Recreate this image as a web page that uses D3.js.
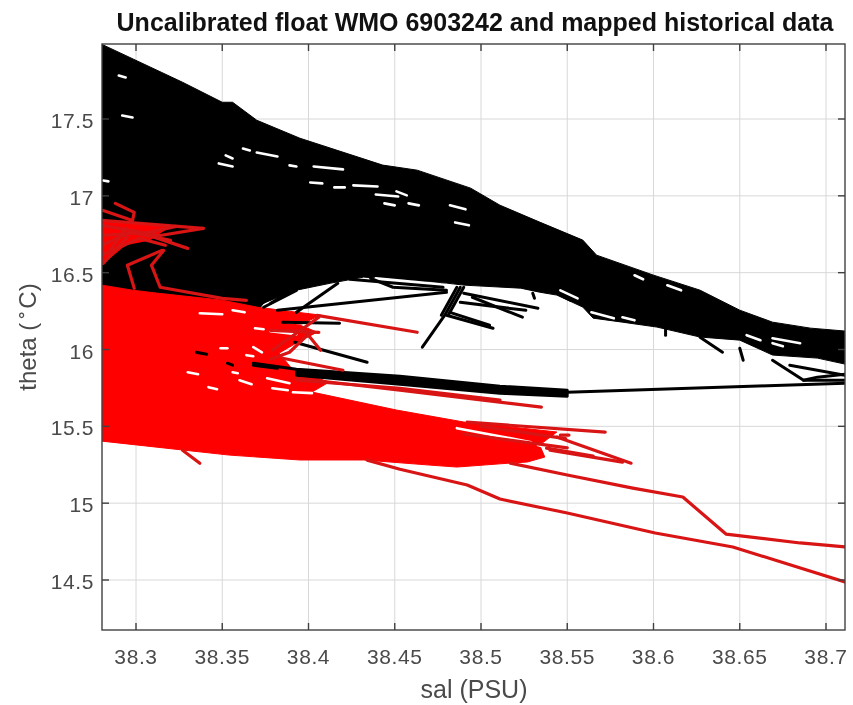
<!DOCTYPE html>
<html><head><meta charset="utf-8">
<script src="https://cdn.jsdelivr.net/npm/d3@7"></script>
<style>html,body{margin:0;padding:0;background:#fff}svg{display:block;filter:blur(0.5px)}</style>
</head><body><svg id="c" width="853" height="705"></svg>
<script>
const salTicks = [38.3,38.35,38.4,38.45,38.5,38.55,38.6,38.65,38.7];
const thetaTicks = [14.5,15,15.5,16,16.5,17,17.5];
const titleText = "Uncalibrated float WMO 6903242 and mapped historical data";
const xLabel = "sal (PSU)";
const yLabelParts = ["theta (", "\u02DA", "C)"];

const blackEnvelope = [[38.280,17.987],[38.327,17.739],[38.350,17.609],[38.356,17.609],[38.370,17.492],[38.395,17.375],[38.443,17.200],[38.463,17.167],[38.494,17.050],[38.511,16.939],[38.534,16.829],[38.559,16.712],[38.567,16.614],[38.600,16.484],[38.627,16.386],[38.650,16.256],[38.669,16.178],[38.691,16.139],[38.711,16.120],
[38.711,15.905],[38.695,15.944],[38.669,15.964],[38.650,16.061],[38.627,16.081],[38.602,16.146],[38.582,16.178],[38.565,16.204],[38.559,16.276],[38.544,16.354],[38.534,16.373],[38.523,16.399],[38.490,16.419],[38.480,16.432],[38.432,16.471],[38.413,16.432],[38.393,16.386],[38.374,16.302],[38.370,16.243],[38.280,16.321]];

const redEnvelope = [[38.280,16.419],[38.298,16.386],[38.312,16.367],[38.350,16.321],[38.370,16.276],[38.393,16.243],[38.407,16.224],[38.395,16.159],[38.405,16.113],[38.393,16.042],[38.383,15.977],[38.391,15.866],[38.412,15.788],[38.402,15.723],[38.451,15.606],[38.490,15.528],[38.523,15.489],[38.544,15.463],[38.534,15.378],[38.537,15.300],[38.527,15.268],[38.517,15.261],[38.486,15.235],[38.470,15.248],[38.432,15.281],[38.395,15.281],[38.354,15.313],[38.327,15.346],[38.280,15.404]];

const redFanPatch = [[38.280,16.840],[38.320,16.801],[38.308,16.710],[38.294,16.678],[38.280,16.548]];

const blackGaps = [
[[38.370,17.282],[38.382,17.256]],[[38.348,17.211],[38.356,17.191]],[[38.403,17.191],[38.420,17.172]],
[[38.401,17.087],[38.408,17.081]],[[38.426,17.068],[38.440,17.061]],[[38.439,17.009],[38.452,16.996]],
[[38.458,16.951],[38.464,16.938]],[[38.482,16.938],[38.491,16.912]],[[38.485,16.827],[38.493,16.808]],
[[38.290,17.783],[38.294,17.770]],[[38.362,17.308],[38.366,17.295]],[[38.281,17.100],[38.284,17.094]],
[[38.352,17.263],[38.356,17.243]],[[38.415,17.055],[38.421,17.055]],[[38.389,17.198],[38.393,17.191]],
[[38.444,16.951],[38.450,16.938]],[[38.292,17.523],[38.298,17.510]],[[38.451,17.029],[38.457,17.003]],
[[38.546,16.385],[38.556,16.333]],[[38.589,16.483],[38.594,16.457]],[[38.608,16.418],[38.616,16.385]],
[[38.564,16.242],[38.577,16.203]],[[38.582,16.210],[38.589,16.190]],[[38.654,16.093],[38.662,16.060]],
[[38.669,16.073],[38.685,16.041]],[[38.669,16.041],[38.675,16.021]],[[38.439,16.463],[38.476,16.424]]];

const redGaps = [
[[38.330,15.852],[38.336,15.839]],[[38.360,15.800],[38.367,15.774]],[[38.376,15.813],[38.389,15.781]],
[[38.337,16.236],[38.350,16.229]],[[38.356,16.255],[38.363,16.242]],[[38.388,16.177],[38.405,16.164]],
[[38.369,16.138],[38.374,16.132]],[[38.378,16.119],[38.393,16.099]],[[38.368,16.015],[38.373,15.982]],
[[38.364,15.963],[38.368,15.956]],[[38.349,16.008],[38.353,16.008]],[[38.356,15.852],[38.359,15.846]],
[[38.342,15.755],[38.347,15.742]],[[38.379,15.748],[38.388,15.735]],[[38.391,15.722],[38.402,15.716]],
[[38.486,15.488],[38.529,15.397]],[[38.533,15.378],[38.548,15.332]]];

const blackTraces = [
[[38.488,16.405],[38.479,16.223],[38.466,16.015]],[[38.490,16.405],[38.481,16.223]],[[38.486,16.405],[38.477,16.223]],
[[38.480,16.223],[38.507,16.138]],[[38.482,16.242],[38.505,16.158]],
[[38.490,16.366],[38.533,16.268]],[[38.488,16.307],[38.526,16.255]],[[38.495,16.340],[38.524,16.210]],
[[38.382,16.255],[38.480,16.372]],[[38.393,16.242],[38.417,16.431]],
[[38.374,16.275],[38.393,16.385]],[[38.371,16.288],[38.381,16.353]],[[38.378,16.301],[38.391,16.385]],
[[38.424,16.457],[38.478,16.405]],[[38.436,16.463],[38.449,16.405],[38.480,16.385]],
[[38.385,16.177],[38.418,16.171]],[[38.392,16.047],[38.434,15.917]],
[[38.368,15.911],[38.393,15.872],[38.453,15.826],[38.511,15.761],[38.550,15.735]],
[[38.393,15.862],[38.453,15.813],[38.511,15.748],[38.550,15.725]],
[[38.393,15.852],[38.453,15.800],[38.511,15.735],[38.550,15.716]],
[[38.393,15.843],[38.453,15.787],[38.511,15.725],[38.550,15.706]],
[[38.393,15.833],[38.453,15.774],[38.511,15.716],[38.550,15.696]],
[[38.368,15.898],[38.382,15.878]],[[38.335,15.982],[38.341,15.969]],[[38.353,15.911],[38.356,15.898]],
[[38.550,15.722],[38.711,15.781]],[[38.687,15.800],[38.711,15.800]],
[[38.669,15.930],[38.687,15.800],[38.695,15.820],[38.711,15.839]],[[38.679,15.898],[38.711,15.833]],
[[38.627,16.080],[38.640,15.982]],[[38.650,16.008],[38.652,15.930]],[[38.607,16.138],[38.607,16.093]],
[[38.544,16.366],[38.552,16.320]],[[38.530,16.366],[38.531,16.333]]];

const redTraces = [
[[38.280,16.840],[38.339,16.788]],[[38.281,16.905],[38.298,16.840]],
[[38.288,16.951],[38.299,16.892],[38.298,16.840]],[[38.299,16.775],[38.330,16.658]],
[[38.281,16.561],[38.295,16.730]],[[38.315,16.645],[38.295,16.548],[38.299,16.398]],
[[38.316,16.645],[38.309,16.548],[38.314,16.405],[38.350,16.333],[38.364,16.320]],
[[38.280,16.808],[38.314,16.742],[38.339,16.788]],[[38.280,16.743],[38.308,16.762],[38.323,16.801]],
[[38.280,16.678],[38.297,16.762],[38.320,16.710]],[[38.280,16.613],[38.302,16.723],[38.317,16.678]],
[[38.285,16.645],[38.294,16.788]],
[[38.405,16.222],[38.463,16.112]],[[38.385,15.943],[38.420,15.865]],[[38.399,16.106],[38.407,15.995]],
[[38.379,15.995],[38.406,16.210]],[[38.393,15.813],[38.453,15.735],[38.535,15.625]],
[[38.393,15.800],[38.453,15.748],[38.511,15.670]],[[38.378,16.125],[38.406,16.112]],
[[38.401,16.112],[38.389,15.982],[38.378,15.937]],
[[38.492,15.527],[38.572,15.462]],[[38.544,15.430],[38.587,15.260]],[[38.540,15.345],[38.582,15.267]],
[[38.538,15.358],[38.565,15.306]],[[38.546,15.443],[38.551,15.443]],[[38.327,15.345],[38.337,15.260]],
[[38.500,15.500],[38.549,15.420]],[[38.490,15.450],[38.550,15.360]],
[[38.434,15.280],[38.453,15.221],[38.492,15.118],[38.511,15.027],[38.550,14.936],[38.601,14.806],[38.646,14.715],[38.711,14.487]],
[[38.517,15.261],[38.550,15.183],[38.588,15.098],[38.617,15.040],[38.642,14.799],[38.685,14.741],[38.711,14.715]]];

const W = 853, H = 705;
const m = {l:102, r:845, t:44, b:630};
const x = d3.scaleLinear().domain([38.3,38.7]).range([136,826]);
const y = d3.scaleLinear().domain([14.5,17.5]).range([580,119]);
const svg = d3.select("#c");
const line = d3.line().x(d=>x(d[0])).y(d=>y(d[1]));
const axisCol = "#404040", textCol = "#4a4a4a";

svg.append("defs").append("clipPath").attr("id","plot").append("rect")
  .attr("x",m.l).attr("y",m.t).attr("width",m.r-m.l).attr("height",m.b-m.t);

const grid = svg.append("g").attr("stroke","#d8d8d8").attr("stroke-width",1);
grid.selectAll("line.v").data(salTicks).join("line").attr("class","v")
  .attr("x1",d=>x(d)).attr("x2",d=>x(d)).attr("y1",m.t).attr("y2",m.b);
grid.selectAll("line.h").data(thetaTicks).join("line").attr("class","h")
  .attr("y1",d=>y(d)).attr("y2",d=>y(d)).attr("x1",m.l).attr("x2",m.r);

const plot = svg.append("g").attr("clip-path","url(#plot)").attr("fill","none")
  .attr("stroke-linejoin","round").attr("stroke-linecap","round");

plot.append("path").datum(blackEnvelope).attr("d",d=>line(d)+"Z").attr("fill","#000").attr("stroke","#000").attr("stroke-width",1);
plot.selectAll("path.bg").data(blackGaps).join("path").attr("class","bg").attr("d",line).attr("stroke","#fff").attr("stroke-width",2.6);
plot.append("path").datum(redEnvelope).attr("d",d=>line(d)+"Z").attr("fill","#f00").attr("stroke","#f00").attr("stroke-width",1);
plot.append("path").datum(redFanPatch).attr("d",d=>line(d)+"Z").attr("fill","#f00");
plot.selectAll("path.rg").data(redGaps).join("path").attr("class","rg").attr("d",line).attr("stroke","#fff").attr("stroke-width",2.6);
plot.selectAll("path.bt").data(blackTraces).join("path").attr("class","bt").attr("d",line).attr("stroke","#000").attr("stroke-width",3);
plot.selectAll("path.rt").data(redTraces).join("path").attr("class","rt").attr("d",line).attr("stroke","#d81414").attr("stroke-width",3.2);

const box = svg.append("g").attr("stroke",axisCol).attr("stroke-width",1.4);
box.append("rect").attr("x",m.l).attr("y",m.t).attr("width",m.r-m.l).attr("height",m.b-m.t).attr("fill","none");
const tick = 7;
box.selectAll("line.xb").data(salTicks).join("line").attr("class","xb").attr("x1",d=>x(d)).attr("x2",d=>x(d)).attr("y1",m.b).attr("y2",m.b-tick);
box.selectAll("line.xt").data(salTicks).join("line").attr("class","xt").attr("x1",d=>x(d)).attr("x2",d=>x(d)).attr("y1",m.t).attr("y2",m.t+tick);
box.selectAll("line.yl").data(thetaTicks).join("line").attr("class","yl").attr("y1",d=>y(d)).attr("y2",d=>y(d)).attr("x1",m.l).attr("x2",m.l+tick);
box.selectAll("line.yr").data(thetaTicks).join("line").attr("class","yr").attr("y1",d=>y(d)).attr("y2",d=>y(d)).attr("x1",m.r).attr("x2",m.r-tick);

const font = "'Liberation Sans',Arial,sans-serif";
svg.append("g").selectAll("text").data(salTicks).join("text")
  .attr("x",d=>x(d)).attr("y",664).attr("text-anchor","middle")
  .attr("font-family",font).attr("font-size",21).attr("letter-spacing",0.6).attr("fill",textCol).text(d=>d);
svg.append("g").selectAll("text").data(thetaTicks).join("text")
  .attr("x",94).attr("y",d=>y(d)+9).attr("text-anchor","end")
  .attr("font-family",font).attr("font-size",21).attr("letter-spacing",0.6).attr("fill",textCol).text(d=>d);
svg.append("text").attr("x",474).attr("y",698).attr("text-anchor","middle")
  .attr("font-family",font).attr("font-size",25).attr("fill",textCol).text(xLabel);
const yl = svg.append("text").attr("transform","translate(36,337) rotate(-90)").attr("text-anchor","middle")
  .attr("font-family",font).attr("font-size",24).attr("fill",textCol);
yl.append("tspan").text(yLabelParts[0]);
yl.append("tspan").attr("dx",4).attr("dy",2).text(yLabelParts[1]);
yl.append("tspan").attr("dx",2).attr("dy",-2).text(yLabelParts[2]);
svg.append("text").attr("x",475).attr("y",31).attr("text-anchor","middle")
  .attr("font-family",font).attr("font-weight","bold").attr("font-size",25).attr("fill","#111").text(titleText);
</script></body></html>
